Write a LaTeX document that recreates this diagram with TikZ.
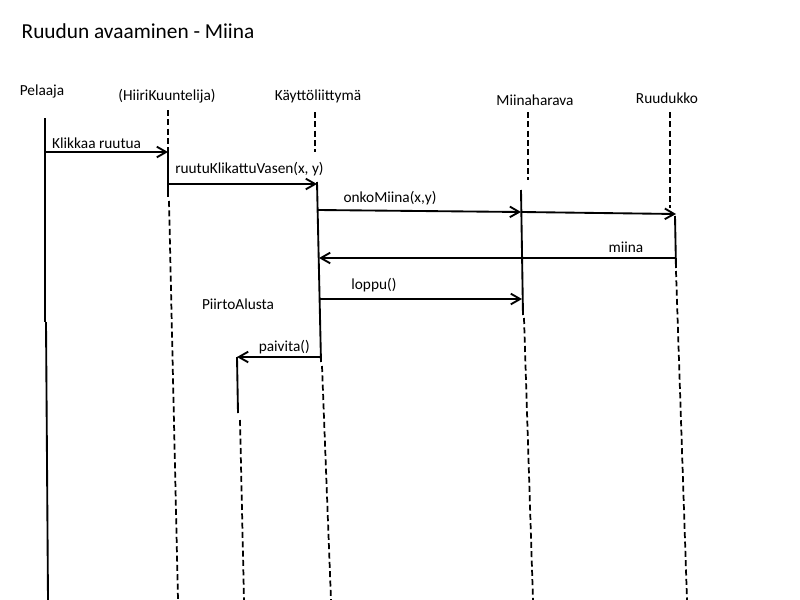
\documentclass[tikz,border=0pt]{standalone}
\usepackage{fontspec}
\setmainfont{Carlito}
\usetikzlibrary{arrows.meta,positioning}

\begin{document}
\begin{tikzpicture}[x=0.75pt, y=-0.75pt,
    actor/.style={font=\fontsize{11.5}{13}\selectfont, inner sep=1pt},
    lbl/.style={font=\fontsize{11.5}{13}\selectfont, inner sep=1pt, above},
    msg/.style={line width=1.4pt, -{Straight Barb[length=7pt,width=8pt,line width=1.4pt]}},
    lifeline/.style={line width=1.3pt, dash pattern=on 4.5pt off 2.5pt},
    active/.style={line width=1.4pt}]
  \useasboundingbox (0,0) rectangle (800,600);

  \node[font=\fontsize{16}{19}\selectfont, anchor=west] (title) at (17,31) {Ruudun avaaminen - Miina};

  % osapuolet
  \node[actor] (pelaaja) at (42,91) {Pelaaja};
  \node[actor] (hiiri) at (167,96) {(HiiriKuuntelija)};
  \node[actor] (kali) at (318,96) {Käyttöliittymä};
  \node[actor] (miinah) at (535,100) {Miinaharava};
  \node[actor] (ruudukko) at (667,98) {Ruudukko};
  \node[actor] (piirto) at (238,304) {PiirtoAlusta};

  % elinviivat
  \draw[active] (45,118) -- (45,322);
  \draw[active] (46,322) -- (48,600);
  \draw[lifeline] (168,110) -- (168,148);
  \draw[active] (168,148) -- (168,197);
  \draw[lifeline] (169,201) -- (178,600);
  \draw[lifeline] (315,112) -- (315,152);
  \draw[active] (317,182) -- (321,362);
  \draw[lifeline] (322,366) -- (331,600);
  \draw[lifeline] (528,112) -- (528,180);
  \draw[active] (521,190) -- (523,315);
  \draw[lifeline] (524,318) -- (533,600);
  \draw[lifeline] (670,112) -- (670,208);
  \draw[active] (675,216) -- (676,268);
  \draw[lifeline] (676,271) -- (687,600);
  \draw[active] (237,357) -- (238,413);
  \draw[lifeline] (240,420) -- (244,600);

  % viestien paat
  \coordinate (p1) at (45,152);
  \coordinate (h1) at (168,152);
  \coordinate (h2) at (169,184);
  \coordinate (k2) at (317,184);
  \coordinate (k3) at (318,210);
  \coordinate (m3) at (521,212);
  \coordinate (m4) at (522,212);
  \coordinate (r4) at (676,214);
  \coordinate (r5) at (675,258);
  \coordinate (k5) at (319,258);
  \coordinate (k6) at (320,299);
  \coordinate (m6) at (522,299);
  \coordinate (k7) at (320,357);
  \coordinate (pa7) at (237,357);

  % viestit
  \draw[msg] (p1) -- (h1) node[lbl, pos=0.42, yshift=0.5pt] {Klikkaa ruutua};
  \draw[msg] (h2) -- (k2) node[lbl, pos=0, anchor=south west, xshift=3pt, yshift=4pt] {ruutuKlikattuVasen(x, y)};
  \draw[msg] (k3) -- (m3) node[lbl, pos=0.355, yshift=2.5pt] {onkoMiina(x,y)};
  \draw[msg] (m4) -- (r4);
  \draw[msg] (r5) -- (k5) node[lbl, pos=0.138, yshift=2.5pt] {miina};
  \draw[msg] (k6) -- (m6) node[lbl, pos=0.267, yshift=3.5pt] {loppu()};
  \draw[msg] (k7) -- (pa7) node[lbl, pos=0.43, yshift=0.5pt] {paivita()};
\end{tikzpicture}
\end{document}
